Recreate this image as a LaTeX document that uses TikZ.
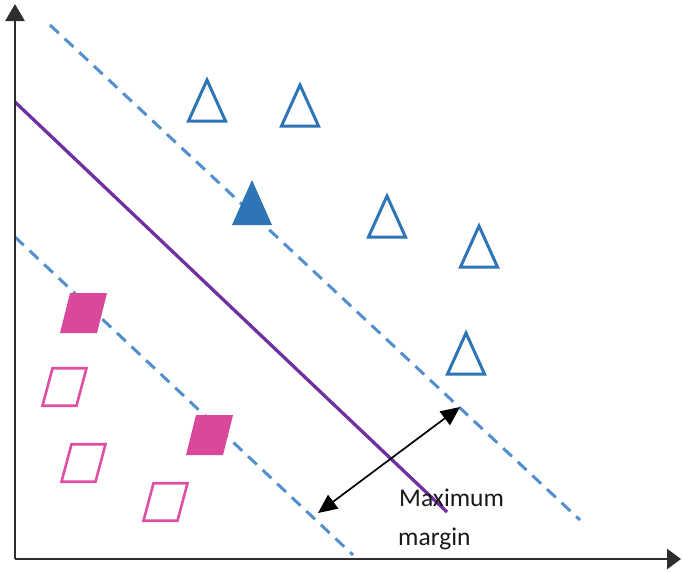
\documentclass[tikz,border=0pt]{standalone}
\usepackage{fontspec}
\newfontfamily\labelfont{Carlito}
\usetikzlibrary{arrows.meta}
\definecolor{triblue}{HTML}{2E75B6}
\definecolor{dashblue}{HTML}{528FCF}
\definecolor{hyperpurple}{HTML}{7030A0}
\definecolor{pinkfill}{HTML}{D9489B}
\definecolor{pinkline}{HTML}{DE4FA2}
\definecolor{axisgray}{HTML}{2E2E2E}
\tikzset{
  axisline/.style={axisgray, line width=2.6pt},
  marginline/.style={dashblue, line width=3pt, dash pattern=on 12pt off 8pt},
  hyperline/.style={hyperpurple, line width=3.3pt},
  measure/.style={black, line width=1.7pt, {Triangle[length=19pt,width=17pt]}-{Triangle[length=19pt,width=17pt]}},
  labeltext/.style={inner sep=0pt, anchor=base west, text=black!90, font=\labelfont\fontsize{25.5}{30}\selectfont},
  tri/.pic={\draw[triblue, line width=3pt, line join=miter] (0,0) -- (-18.5,41) -- (18.5,41) -- cycle;},
  trifill/.pic={\fill[triblue] (0,-2) -- (-20,43) -- (20,43) -- cycle;},
  parafill/.pic={\fill[pinkfill] (0,0) -- (37,0) -- (27,40) -- (-10,40) -- cycle;},
  paraline/.pic={\draw[pinkline, line width=2.6pt] (1.5,1.25) -- (35.5,1.25) -- (25.5,38.75) -- (-8.5,38.75) -- cycle;}
}
\begin{document}
\begin{tikzpicture}[x=1pt,y=-1pt]
\useasboundingbox (0,0) rectangle (682,571);
% coordinates
\coordinate (origin) at (15,559);
\coordinate (ytop) at (15,4);
\coordinate (xend) at (681,559);
\coordinate (upA) at (50,25);
\coordinate (upB) at (580,520);
\coordinate (loA) at (15,237);
\coordinate (loB) at (353,555);
\coordinate (hpA) at (15,102);
\coordinate (hpB) at (447,512);
\coordinate (mA) at (318,513);
\coordinate (mB) at (460,407);
% margin lines
\draw[marginline] (upA) -- (upB);
\draw[marginline] (loA) -- (loB);
% hyperplane
\draw[hyperline] (hpA) -- (hpB);
% class A: triangles
\pic at (207,80) {tri};
\pic at (300,85) {tri};
\pic at (252,182) {trifill};
\pic at (387,196) {tri};
\pic at (479,226) {tri};
\pic at (466,333) {tri};
% class B: parallelograms
\pic at (70,293) {parafill};
\pic at (196,415) {parafill};
\pic at (51,367) {paraline};
\pic at (70,443) {paraline};
\pic at (152,482) {paraline};
% margin arrow
\draw[measure] (mA) -- (mB);
% label
\node[labeltext] (lab1) at (399,506) {Maximum};
\node[labeltext] (lab2) at (398,545) {margin};
% axes
\draw[axisline, -{Triangle[length=17pt,width=19pt]}] (origin) -- (ytop);
\draw[axisline, -{Triangle[length=14pt,width=20pt]}] (origin) -- (xend);
\end{tikzpicture}
\end{document}
